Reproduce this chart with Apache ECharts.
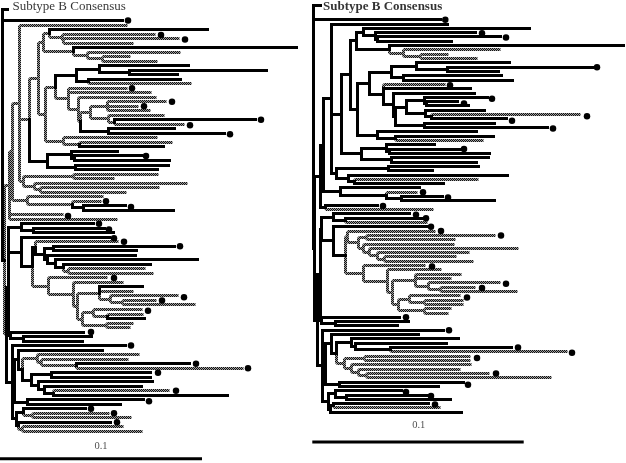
<!DOCTYPE html>
<html>
<head>
<meta charset="utf-8">
<style>html,body{margin:0;padding:0;background:#fff}#c{width:626px;height:463px}</style>
<script src="https://cdn.jsdelivr.net/npm/echarts@6/dist/echarts.min.js"></script>
</head>
<body>
<div id="c"></div>
<script>
// Leaf: [tip, kind, dotX, dotRowOffset, fixedRow]. Node: [x, kind, [children]]. kind: s = black line, d = hatched line.
const leftConsensus = [7,'s',null,0,-1.45];
const leftFirst = [122,'s',128];
const leftUpper = [9.5,'d',[
  [12.7,'d',[
    [19,'d',[
      [127,'d'],
      [29.5,'d',[
        [38,'d',[
          [43,'d',[
            [49,'d',[
              [207,'s'],
              [62,'d',[[155,'d',161,.2],[63.5,'d',[[179,'d',185,.2],[133,'d']]]]]
            ]],
            [73,'d',[[296,'s'],[87,'d',[[180,'d'],[102,'d',[[130,'d'],[157,'d']]]]]]]
          ]],
          [45,'d',[
            [55,'d',[
              [76,'s',[
                [99,'s',[[188,'s'],[129,'s',[[266,'s'],[177,'s']]]]],
                [88,'s',[[180,'s'],[191,'d']]]
              ]],
              [68,'d',[[127,'d',132],[151,'d'],
                [78,'d',[[156,'d'],
                  [80,'d',[
                    [90,'d',[
                      [107,'d',[[166,'d',172],[138,'d',144],[150,'d']]],
                      [108,'d',[[164,'d'],[114,'d',[[255,'s',261],[184,'d',190,.2]]]]]
                    ]],
                    [108,'s',[[174,'s'],[224,'s',230,.2]]]
                  ]]
                ]]
              ]]
            ]],
            [63,'d',[[157,'d'],[79,'d',[[172,'d'],[163,'s']]]]]
          ]]
        ]],
        [47,'s',[
          [71,'s',[[117,'s'],[74,'s',[[141,'s',146],[169,'s']]]]],
          [75,'s',[[168,'s'],[157,'s']]]
        ]]
      ]],
      [23,'d',[
        [73,'d',[[158,'d'],[114,'d']]],
        [34,'d',[[187,'d'],[40,'d',[[159,'d'],[126,'d']]]]]
      ]]
    ]],
    [27,'d',[[103,'d'],[72,'d',[[101,'d',106],[83,'s',[[125,'s',131,.3],[173,'s']]]]]]]
  ]],
  [63,'d',68,.3],[117,'d']
]];
const leftLower = [6,'d',[
  [8,'s',[
    [8.5,'s',[
      [21,'s',[[93,'s',99],[33,'s',[[104,'s',109,.3],[113,'s']]]]],
      [21,'s',[[109,'s',114,.2],
        [32,'s',[
          [35,'s',[[118,'d',124],
            [44,'s',[
              [53,'s',[[174,'s',180],[136,'s']]],
              [47,'s',[[135,'s'],
                [55,'s',[[197,'s'],[63,'s',[[150,'s'],[68,'d',[[145,'d'],[153,'d']]]]]]]
              ]]
            ]]
          ]],
          [48,'d',[[107,'d',114],
            [73,'d',[[123,'d'],
              [77,'d',[
                [99,'d',[[142,'s'],[133,'d'],[110,'d',[[178,'d',184,.3],[122,'d',[[156,'d',162],[195,'d']]]]]]],
                [82,'d',[
                  [93,'d',[[142,'d',148,.3],[107,'d',[[143,'d'],[144,'s']]]]],
                  [106,'d',[[133,'d'],[130,'d']]]
                ]]
              ]]
            ]]
          ]]
        ]]
      ]]
    ]],
    [10,'s',[[83,'s',91],[23,'s',[[91,'s'],[82,'s']]]]]
  ]],
  [12,'s',[
    [125,'s',131],
    [14.5,'s',[
      [18.5,'s',[[102,'s'],
        [22.7,'s',[
          [37,'d',[[139,'d'],[41,'d',[[128,'d'],[76,'d',[[189,'s',196],[243,'d',248]]]]]]],
          [31,'s',[
            [51,'s',[[150,'s',158],[150,'s']]],
            [38,'s',[[152,'s'],[44,'s',[[141,'s'],[53,'s',[[169,'d',176],[227,'s']]]]]]]
          ]]
        ]]
      ]],
      [27,'s',[[143,'s',149,.3],[120,'s']]]
    ]],
    [16,'s',[
      [23,'s',[[85,'s',91],[32,'d',[[109,'d',114],[131,'d']]]]],
      [18,'s',[[110,'s',117],[22,'d',[[123,'d'],[142,'d']]]]]
    ]]
  ]]
]];

const rightConsensus = [15,'s',null,0,-2.2];
const rightFirst = [135,'s',140.3];
const rightUpper = [15.7,'s',[
  [18.3,'s',[
    [26,'s',[
      [142,'s'],
      [36.7,'s',[
        [45.7,'s',[
          [51.7,'s',[
            [58.3,'s',[[224,'s'],[70.7,'s',[[170,'s',177,.15],[72.7,'s',[[195,'s',201,.15],[146,'s']]]]]]],
            [84,'s',[[318,'s'],[98.3,'d',[[195.7,'d'],[115,'d',[[143,'d'],[172,'d']]]]]]]
          ]],
          [52.7,'s',[
            [64,'s',[
              [86,'s',[
                [111,'s',[[204,'s'],[142.7,'s',[[287,'s',292],[193,'s']]]]],
                [98.3,'s',[[196,'s'],[207,'s']]]
              ]],
              [78.3,'s',[[140,'d',145,.2],[165,'s'],
                [88.3,'s',[[169,'s'],
                  [90,'s',[
                    [101,'s',[
                      [119,'s',[[182,'s',187,.3],[121.7,'s',[[152,'s',159,.4],[163,'s']]]]],
                      [120,'s',[[179,'s'],[126,'s',[[275,'d',282,.4],[201,'s',207,.4]]]]]
                    ]],
                    [119.3,'s',[[189,'s'],[242,'s',248,.2]]]
                  ]]
                ]]
              ]]
            ]],
            [72.7,'s',[[171,'s'],[90,'s',[[188,'s'],[178,'d']]]]]
          ]]
        ]],
        [56.7,'s',[
          [81,'s',[[129,'s'],[84,'s',[[155,'s',159],[184,'s']]]]],
          [86,'s',[[183,'s'],[171,'s']]]
        ]]
      ]],
      [31.7,'s',[
        [83.3,'s',[[173,'s'],[127,'s']]],
        [43.3,'s',[[202,'s'],[49.3,'s',[[173,'d'],[138,'s']]]]]
      ]]
    ]],
    [35,'s',[[114,'s'],[81,'s',[[112,'d',118],[96,'s',[[137,'s',143,.2],[189,'s']]]]]]]
  ]],
  [20.7,'s',[[72,'s',78,.2],[128,'d']]]
]];
const rightLower = [12.7,'s',[
  [15.3,'s',[
    [16.7,'s',[
      [28.3,'s',[[104,'s',111,.2],[40,'s',[[117,'s',121],[122,'d']]]]],
      [28.3,'s',[[121,'s',126],
        [40,'s',[
          [42.7,'d',[[130,'d',136],
            [53.3,'d',[
              [61.7,'d',[[190,'d',196],[150,'d']]],
              [58.3,'d',[[149,'d'],[64,'d',[[213,'d'],[72.7,'d',[[164,'d'],[79.3,'d',[[151,'d'],[168,'d']]]]]]]]]
            ]]
          ]],
          [58.3,'d',[[120,'d',127,.2],
            [82.7,'d',[[136,'d'],
              [87.3,'d',[
                [110,'d',[[156,'d'],[146,'d'],[123.3,'d',[[195,'d',201,.2],[135,'d',[[170,'d',177,.2],[212,'d']]]]]]],
                [93.3,'d',[
                  [104,'d',[[155,'d',162,.4],[119.3,'d',[[158,'d'],[158,'d']]]]],
                  [119.3,'d',[[146,'d'],[143,'d']]]
                ]]
              ]]
            ]]
          ]]
        ]]
      ]]
    ]],
    [16,'s',[[94,'s',101],[30,'s',[[103,'s'],[92,'s']]]]]
  ]],
  [17.3,'s',[
    [138,'s',144],
    [20.7,'s',[
      [26,'s',[[113,'s'],
        [31.7,'s',[
          [46,'s',[[153,'s'],[50,'s',[[141,'s'],[85,'s',[[206,'s',213],[262,'d',267,.2]]]]]]],
          [39.3,'d',[
            [59.3,'d',[[165,'d',172,.4],[165,'d']]],
            [46.7,'d',[[166,'d'],[53.3,'d',[[155,'d'],[61.7,'d',[[184,'d',191],[246,'d']]]]]]]
          ]]
        ]]
      ]],
      [34.3,'s',[[158,'s',163,.6],[133,'s']]]
    ]],
    [23.3,'s',[
      [30,'s',[[96,'s',101,.3],[41.7,'s',[[122,'s',126,.2],[145,'s']]]]],
      [25.3,'s',[[28.3,'s',[[123,'s',130,.2],[135,'d']]],[156,'s']]]
    ]]
  ]]
]];

const leftRootX = 2, leftSplitX = 4.5, rightRootX = 8.3, rightSplitX = 9.3;
const scaleLeft = [[0,98.06],[202,98.06]];
const scaleRight = [[7.3,98.9],[218.7,98.9]];
const scaleText = '0.1';
const titleText = 'Subtype B Consensus';

const isNode = n => Array.isArray(n[2]);
function build(tree){
  const solid=[],hatch=[],dots=[];let next=1;
  const seg=(k,a,b,c,d)=>(k==='s'?solid:hatch).push([a,b,c,d]);
  function place(n){
    if(isNode(n)){
      n[2].forEach(place);
      const c=n[2];
      n.row=(c[0].row+c[c.length-1].row)/2;
      c.forEach(ch=>{
        seg(ch[1],n[0],n.row,n[0],ch.row);
        seg(ch[1],n[0],ch.row,ch[0],ch.row);
      });
    } else {
      n.row=n[4]!==undefined?n[4]:next++;
      if(n[2]!=null)dots.push([n[2],n.row+(n[3]||0)]);
    }
  }
  place(tree);
  return {solid,hatch,dots};
}
const leftTree = build([leftRootX,'s',[leftConsensus,leftFirst,[leftSplitX,'s',[leftUpper,leftLower]]]]);
const rightTree = build([rightRootX,'s',[rightConsensus,rightFirst,[rightSplitX,'s',[rightUpper,rightLower]]]]);

const px=v=>Math.round(v-0.5)+0.5;
function branches(data,idx,style){
  return {type:'custom',xAxisIndex:idx,yAxisIndex:idx,data,clip:false,silent:true,
    encode:{x:[0,2],y:[1,3]},
    renderItem:(p,api)=>{
      const a=api.coord([api.value(0),api.value(1)]),b=api.coord([api.value(2),api.value(3)]);
      return {type:'line',shape:{x1:px(a[0]),y1:px(a[1]),x2:px(b[0]),y2:px(b[1])},style:Object.assign({fill:null},style)};
    }};
}
// 2x2 checker tile for the hatched branches
const tile=document.createElement('canvas');tile.width=2;tile.height=2;
const tc=tile.getContext('2d');
tc.fillStyle='#a0a0a0';tc.fillRect(0,0,2,2);
tc.fillStyle='#111111';tc.fillRect(0,0,1,1);tc.fillRect(1,1,1,1);
const solidStyle={stroke:'#000',lineWidth:3,lineCap:'square'};
const hatchStyle={stroke:{image:tile,repeat:'repeat'},lineWidth:3,lineCap:'butt'};
const scaleStyle={color:'#000',width:3};
function panel(t,idx,scale,titleAt,bold,labelAt){
  return [
    branches(t.hatch,idx,hatchStyle),
    branches(t.solid,idx,solidStyle),
    {type:'scatter',xAxisIndex:idx,yAxisIndex:idx,data:t.dots,symbol:'circle',symbolSize:6.5,clip:false,silent:true,z:5,itemStyle:{color:'#000',opacity:1}},
    {type:'line',xAxisIndex:idx,yAxisIndex:idx,data:scale,symbol:'none',clip:false,silent:true,lineStyle:scaleStyle},
    {type:'scatter',xAxisIndex:idx,yAxisIndex:idx,data:[titleAt],symbolSize:1,clip:false,silent:true,itemStyle:{color:'transparent'},
      label:{show:true,position:'right',distance:0,formatter:titleText,color:'#000',fontFamily:'"Liberation Serif"',fontSize:13,fontWeight:bold?'bold':'normal'}},
    {type:'scatter',xAxisIndex:idx,yAxisIndex:idx,data:[labelAt],symbolSize:1,clip:false,silent:true,itemStyle:{color:'transparent'},
      label:{show:true,position:'inside',formatter:scaleText,color:'#222',fontFamily:'"Liberation Serif"',fontSize:10.5}}
  ];
}
const axisX=(i,max)=>({type:'value',gridIndex:i,min:0,max,show:false});
const axisY=i=>({type:'value',gridIndex:i,min:-3,max:99,inverse:true,show:false});
const chart=echarts.init(document.getElementById('c'),null,{renderer:'canvas'});
chart.setOption({
  animation:false,backgroundColor:'#fff',
  grid:[
    {left:0,width:305,top:2.48,height:462.06},
    {left:305,width:321,top:2.44,height:440.03}
  ],
  xAxis:[axisX(0,305),axisX(1,321)],
  yAxis:[axisY(0),axisY(1)],
  series:[
    ...panel(leftTree,0,scaleLeft,[12,-2.05],false,[101,95.2]),
    ...panel(rightTree,1,scaleRight,[17.5,-2.0],true,[113.7,95])
  ]
});
</script>
</body>
</html>
